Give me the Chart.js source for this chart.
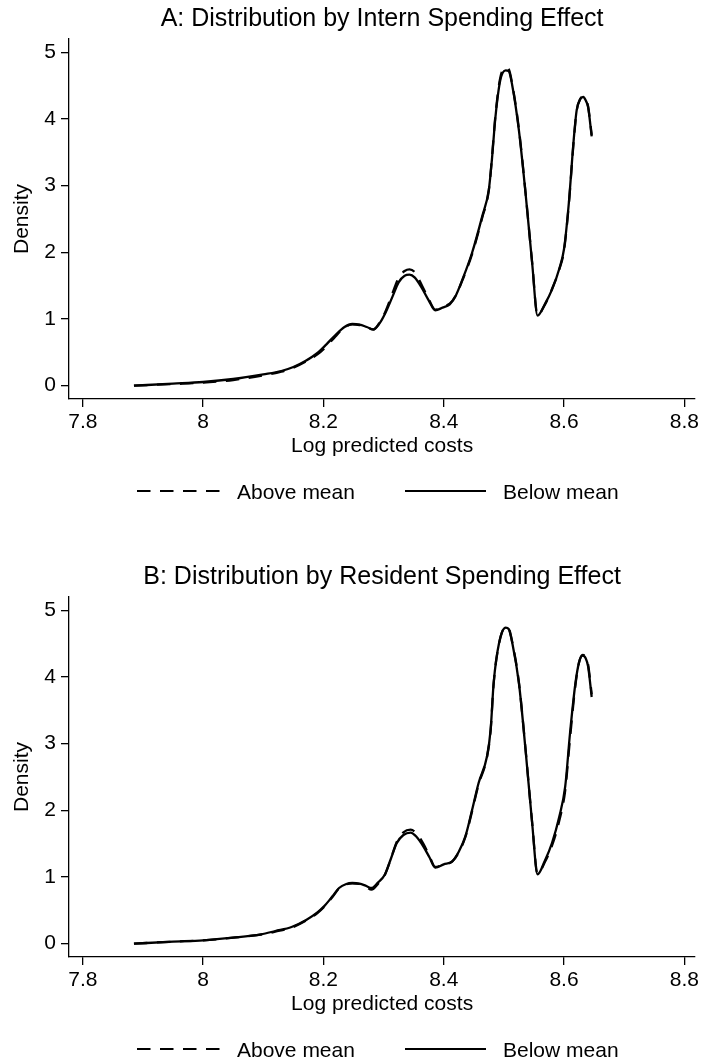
<!DOCTYPE html>
<html><head><meta charset="utf-8">
<script src="https://cdn.jsdelivr.net/npm/chart.js@4.4.1/dist/chart.umd.min.js"></script>
<style>
html,body{margin:0;padding:0;background:#fff;}
#wrap{position:relative;width:702px;height:1063px;overflow:hidden;background:#fff;}
canvas{position:absolute;left:0;}
</style></head><body>
<div id="wrap">
<canvas id="cA" width="702" height="558" style="top:0;width:702px;height:558px"></canvas>
<canvas id="cB" width="702" height="505" style="top:558px;width:702px;height:505px"></canvas>
</div>
<script>
const FONT = "'Liberation Sans', Helvetica, Arial, sans-serif";

const xTicks = [7.8, 8, 8.2, 8.4, 8.6, 8.8];
const xTickLabels = ['7.8', '8', '8.2', '8.4', '8.6', '8.8'];
const yTicks = [0, 1, 2, 3, 4, 5];
const yTickLabels = ['0', '1', '2', '3', '4', '5'];
const seriesNames = ['Above mean', 'Below mean'];
const titleA = 'A: Distribution by Intern Spending Effect';
const titleB = 'B: Distribution by Resident Spending Effect';
const xAxisTitle = 'Log predicted costs';
const yAxisTitle = 'Density';

// Panel A: log predicted costs grid and densities
const xA = [7.885, 7.95, 8.00, 8.05, 8.10, 8.13, 8.15, 8.17, 8.19, 8.205, 8.22, 8.235, 8.248, 8.26, 8.272, 8.283, 8.293, 8.303, 8.315, 8.325, 8.335, 8.343, 8.352, 8.364, 8.375, 8.386, 8.398, 8.41, 8.42, 8.431, 8.447, 8.464, 8.475, 8.480, 8.486, 8.494, 8.503, 8.508, 8.514, 8.525, 8.536, 8.547, 8.556, 8.568, 8.580, 8.592, 8.600, 8.608, 8.616, 8.621, 8.627, 8.632, 8.636, 8.640, 8.646];
const aboveA = [0.00, 0.025, 0.045, 0.085, 0.155, 0.21, 0.27, 0.36, 0.47, 0.59, 0.74, 0.87, 0.92, 0.91, 0.875, 0.84, 0.94, 1.11, 1.39, 1.62, 1.72, 1.745, 1.70, 1.50, 1.30, 1.14, 1.19, 1.23, 1.35, 1.58, 1.97, 2.52, 2.93, 3.40, 4.06, 4.62, 4.77, 4.75, 4.52, 3.85, 2.90, 1.85, 1.06, 1.21, 1.45, 1.74, 2.03, 2.72, 3.66, 4.12, 4.30, 4.33, 4.29, 4.19, 3.76];
const belowA = [0.00, 0.03, 0.055, 0.10, 0.17, 0.22, 0.28, 0.37, 0.49, 0.62, 0.76, 0.88, 0.925, 0.915, 0.88, 0.845, 0.93, 1.09, 1.34, 1.55, 1.65, 1.665, 1.62, 1.46, 1.28, 1.13, 1.17, 1.22, 1.35, 1.59, 1.99, 2.54, 2.94, 3.38, 4.03, 4.58, 4.73, 4.72, 4.50, 3.83, 2.89, 1.84, 1.05, 1.22, 1.44, 1.75, 2.05, 2.74, 3.68, 4.13, 4.30, 4.33, 4.28, 4.18, 3.74];

// Panel B
const xB = [7.885, 7.95, 8.00, 8.05, 8.096, 8.12, 8.147, 8.172, 8.19, 8.201, 8.215, 8.226, 8.238, 8.248, 8.26, 8.27, 8.280, 8.291, 8.302, 8.312, 8.322, 8.333, 8.345, 8.355, 8.366, 8.376, 8.386, 8.40, 8.414, 8.425, 8.436, 8.447, 8.458, 8.472, 8.478, 8.483, 8.492, 8.503, 8.508, 8.514, 8.525, 8.536, 8.547, 8.556, 8.568, 8.580, 8.592, 8.602, 8.610, 8.619, 8.625, 8.631, 8.636, 8.640, 8.646];
const aboveB = [0.00, 0.03, 0.05, 0.09, 0.135, 0.18, 0.24, 0.35, 0.46, 0.55, 0.70, 0.83, 0.89, 0.905, 0.895, 0.86, 0.81, 0.90, 1.03, 1.27, 1.53, 1.67, 1.71, 1.65, 1.50, 1.32, 1.15, 1.19, 1.23, 1.37, 1.60, 1.98, 2.39, 2.80, 3.20, 3.90, 4.50, 4.75, 4.73, 4.52, 3.92, 2.92, 1.82, 1.05, 1.22, 1.47, 1.84, 2.30, 3.08, 3.88, 4.22, 4.33, 4.30, 4.19, 3.74];
const belowB = [0.00, 0.03, 0.05, 0.09, 0.14, 0.19, 0.25, 0.36, 0.47, 0.56, 0.71, 0.835, 0.895, 0.91, 0.90, 0.87, 0.835, 0.92, 1.035, 1.27, 1.51, 1.63, 1.665, 1.60, 1.46, 1.30, 1.14, 1.19, 1.235, 1.38, 1.61, 2.00, 2.41, 2.81, 3.21, 3.91, 4.51, 4.74, 4.72, 4.51, 3.91, 2.91, 1.81, 1.04, 1.24, 1.51, 1.90, 2.36, 3.16, 3.91, 4.22, 4.32, 4.28, 4.16, 3.70];

const stataDecor = {
  id: 'stataDecor',
  afterDraw(chart, args, opts) {
    const ctx = chart.ctx, ca = chart.chartArea;
    ctx.save();
    ctx.fillStyle = '#000';
    ctx.textBaseline = 'middle';
    ctx.textAlign = 'center';
    ctx.font = '25px ' + FONT;
    ctx.fillText(opts.text, (ca.left + ca.right) / 2, opts.titleY);
    ctx.font = '21px ' + FONT;
    ctx.textAlign = 'left';
    chart.data.datasets.forEach((ds, i) => {
      const it = opts.items[i];
      ctx.beginPath();
      ctx.setLineDash(ds.borderDash || []);
      ctx.lineWidth = 2;
      ctx.strokeStyle = '#000';
      ctx.moveTo(it.x0, opts.lineY);
      ctx.lineTo(it.x1, opts.lineY);
      ctx.stroke();
      ctx.setLineDash([]);
      ctx.fillText(ds.label, it.tx, opts.textY);
    });
    ctx.restore();
  }
};

function makeChart(id, h, xs, above, below, title) {
  const axisFont = {family: FONT, size: 21};
  return new Chart(document.getElementById(id), {
    type: 'line',
    data: {
      datasets: [
        {label: seriesNames[0], data: xs.map((x, i) => ({x: x, y: above[i]})), borderColor: '#000', borderWidth: 2.3, borderDash: [13.5, 9.5], pointRadius: 0, fill: false, cubicInterpolationMode: 'monotone', order: 1},
        {label: seriesNames[1], data: xs.map((x, i) => ({x: x, y: below[i]})), borderColor: '#000', borderWidth: 2.3, borderDash: [], pointRadius: 0, fill: false, cubicInterpolationMode: 'monotone', order: 0}
      ]
    },
    options: {
      responsive: false, animation: false, devicePixelRatio: 1,
      layout: {padding: {top: 39, right: 5, left: 0, bottom: h - 459}},
      plugins: {
        legend: {display: false}, tooltip: {enabled: false}, title: {display: false},
        stataDecor: {text: title, titleY: 19, lineY: 491, textY: 493,
          items: [{x0: 137, x1: 221, tx: 237}, {x0: 405, x1: 486, tx: 503}]}
      },
      scales: {
        x: {
          type: 'linear', min: 7.777, max: 8.818,
          afterBuildTicks: s => { s.ticks = xTicks.map(v => ({value: v})); },
          afterFit: s => { s.height = 60; },
          ticks: {callback: v => { const k = xTicks.indexOf(v); return k >= 0 ? xTickLabels[k] : ''; }, font: axisFont, color: '#000', padding: 3, maxRotation: 0, autoSkip: false},
          grid: {display: true, drawOnChartArea: false, drawTicks: true, tickLength: 8, color: '#000', lineWidth: 1.3},
          border: {display: true, color: '#000', width: 1.3},
          title: {display: true, text: xAxisTitle, font: axisFont, color: '#000', padding: {top: 0, bottom: 0}}
        },
        y: {
          type: 'linear', min: -0.2, max: 5.2,
          afterBuildTicks: s => { s.ticks = yTicks.map(v => ({value: v})); },
          afterFit: s => { s.width = 69; },
          ticks: {callback: v => { const k = yTicks.indexOf(v); return k >= 0 ? yTickLabels[k] : ''; }, font: axisFont, color: '#000', padding: 5, autoSkip: false},
          grid: {display: true, drawOnChartArea: false, drawTicks: true, tickLength: 8, color: '#000', lineWidth: 1.3},
          border: {display: true, color: '#000', width: 1.3},
          title: {display: true, text: yAxisTitle, font: axisFont, color: '#000', padding: {top: 10, bottom: 0}}
        }
      }
    },
    plugins: [stataDecor]
  });
}

makeChart('cA', 558, xA, aboveA, belowA, titleA);
makeChart('cB', 505, xB, aboveB, belowB, titleB);
</script>
</body></html>
